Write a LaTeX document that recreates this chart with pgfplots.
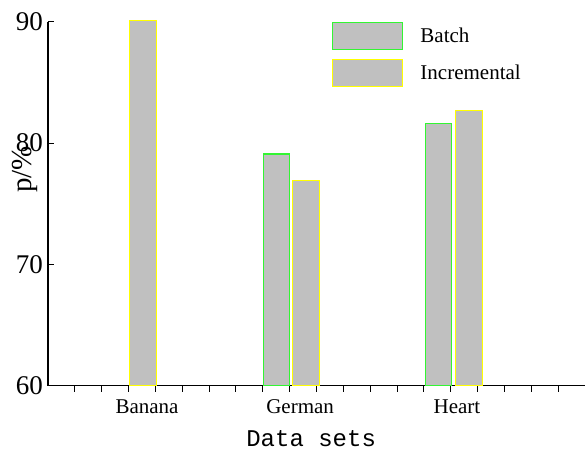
\documentclass[border=0pt]{standalone}
\usepackage{fontspec}
\setmainfont{Liberation Serif}
\setmonofont{Liberation Mono}
\usepackage{pgfplots}
\pgfplotsset{compat=1.18}
\definecolor{barfill}{RGB}{192,192,192}
\definecolor{bgreen}{RGB}{50,245,50}
\definecolor{byellow}{RGB}{255,255,0}
\pgfplotsset{barleg/.style={legend image code/.code={\draw[##1] (0pt,-13.5pt) rectangle (70pt,13.5pt);}}}
\begin{document}
\begin{tikzpicture}
\useasboundingbox (-48pt,-66.3pt) rectangle (537pt,385.7pt);
\begin{axis}[
  at={(0pt,0pt)}, anchor=south west,
  scale only axis, width=537pt, height=364pt,
  xmin=0, xmax=20, ymin=60, ymax=90,
  clip=false,
  axis x line*=bottom, axis y line*=left,
  axis line style={-, line width=1.2pt},
  every tick/.style={black, line width=1pt},
  tick align=inside, major tick length=6pt,
  ytick={60,70,80,90},
  xtick={1,...,19}, xticklabels={},
  extra x ticks={3.69,9.39,15.23},
  extra x tick labels={Banana,German,Heart},
  extra x tick style={major tick length=0pt},
  xticklabel style={font=\fontsize{21}{24}\selectfont, inner sep=0pt},
  xticklabel shift=14pt,
  yticklabel style={font=\fontsize{27}{30}\selectfont, inner sep=0pt},
  yticklabel shift=5pt,
  /pgf/number format/assume math mode=true,
  ylabel={p/\%},
  ylabel style={font=\fontsize{29}{32}\selectfont, at={(axis description cs:-0.043,0.594)}, anchor=center},
  xlabel={Data sets},
  xlabel style={font=\ttfamily\fontsize{24}{28}\selectfont, at={(axis description cs:0.49,-0.145)}, anchor=center},
  ybar, bar width=0.98, bar shift=0pt,
  barleg,
  legend cell align=left,
  legend style={at={(axis description cs:0.529,1.0)}, anchor=north west,
    draw=none, fill=none, inner sep=0pt, row sep=9pt,
    nodes={inner sep=0pt},
    font=\fontsize{21}{24}\selectfont,
    /tikz/every odd column/.append style={column sep=17pt}},
]
\addplot[fill=barfill, draw=bgreen, line width=1.2pt]
  coordinates {(8.51,79.1) (14.55,81.6)};
\addlegendentry{Batch}
\addplot[fill=barfill, draw=byellow, line width=1.2pt]
  coordinates {(3.54,90.1) (9.61,76.9) (15.68,82.7)};
\addlegendentry{Incremental}
\end{axis}
\end{tikzpicture}
\end{document}
